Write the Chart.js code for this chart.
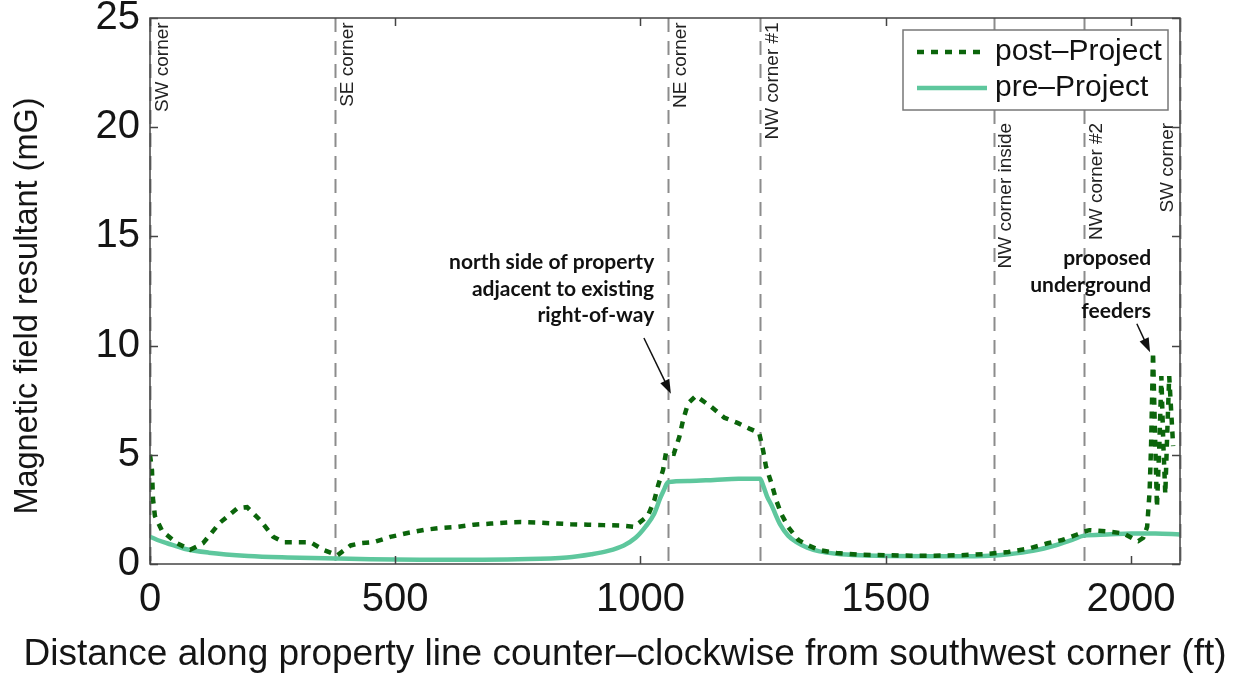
<!DOCTYPE html>
<html>
<head>
<meta charset="utf-8">
<script src="https://cdn.jsdelivr.net/npm/chart.js@4/dist/chart.umd.min.js"></script>
<style>
  html, body { margin: 0; padding: 0; background: #fff; }
  #chart { display: block; }
</style>
</head>
<body>
<canvas id="chart" width="1241" height="679"></canvas>
<script>
// post-Project readings (distance ft, field mG)
const postX = [0, 4, 6, 10, 25, 55, 82, 108, 143, 178, 198, 225, 251, 272, 300, 327, 353, 382, 409, 429,
  456, 490, 525, 558, 592, 627, 660, 695, 729, 756, 791, 823, 858, 893, 925, 960, 987, 1015, 1028, 1036,
  1046, 1052, 1068, 1079, 1087, 1097, 1113, 1144, 1171, 1199, 1222, 1242, 1250, 1256, 1267, 1277, 1287,
  1301, 1322, 1342, 1363, 1400, 1450, 1500, 1550, 1600, 1650, 1700, 1750, 1790, 1830, 1860, 1890, 1904,
  1915, 1950, 1985, 2005, 2015, 2025, 2033, 2038, 2041, 2043, 2045, 2049, 2053, 2058, 2062, 2066, 2070,
  2074, 2078, 2082, 2086];
const postY = [5.0, 4.3, 3.0, 2.2, 1.5, 0.95, 0.65, 0.95, 1.9, 2.55, 2.6, 2.0, 1.25, 1.0, 1.0, 1.0, 0.65, 0.4, 0.85, 0.95,
  1.0, 1.24, 1.42, 1.56, 1.65, 1.7, 1.8, 1.85, 1.9, 1.92, 1.9, 1.86, 1.82, 1.8, 1.78, 1.76, 1.7, 2.2, 2.9, 3.6,
  4.3, 5.1, 5.05, 5.8, 6.6, 7.35, 7.7, 7.2, 6.7, 6.45, 6.2, 6.0, 5.2, 4.45, 3.7, 2.9, 2.3,
  1.7, 1.1, 0.85, 0.65, 0.5, 0.42, 0.4, 0.38, 0.38, 0.4, 0.45, 0.55, 0.7, 0.95, 1.1, 1.35, 1.48,
  1.55, 1.5, 1.4, 1.15, 1.05, 1.2, 1.7, 3.3, 5.4, 7.5, 9.7, 6.0, 2.6, 5.5, 8.6, 5.5, 3.2,
  6.0, 8.6, 7.0, 5.4];

// pre-Project readings
const preX = [0, 15, 35, 70, 120, 200, 280, 378, 450, 550, 650, 750, 850, 900, 934, 966, 990, 1010, 1028, 1040,
  1048, 1056, 1100, 1150, 1200, 1244, 1250, 1258, 1267, 1285, 1301, 1318, 1340, 1365, 1400, 1450, 1500,
  1600, 1700, 1750, 1800, 1850, 1880, 1904, 1950, 2000, 2050, 2100];
const preY = [1.25, 1.1, 0.95, 0.7, 0.52, 0.37, 0.3, 0.25, 0.22, 0.2, 0.2, 0.22, 0.3, 0.45, 0.6, 0.85, 1.2, 1.7, 2.3, 3.0,
  3.4, 3.75, 3.8, 3.85, 3.9, 3.9, 3.6, 3.1, 2.7, 1.8, 1.3, 1.0, 0.75, 0.58, 0.47, 0.4, 0.37,
  0.35, 0.37, 0.45, 0.6, 0.88, 1.1, 1.3, 1.35, 1.4, 1.4, 1.35];

const xTicks = [0, 500, 1000, 1500, 2000];
const yTicks = [0, 5, 10, 15, 20, 25];

// corner markers along the property line
const markerX = [0, 378, 1056, 1244, 1720, 1904, 2100];
const markerLabels = ['SW corner', 'SE corner', 'NE corner', 'NW corner #1', 'NW corner inside', 'NW corner #2', 'SW corner'];
const markerTop = [24.8, 24.8, 24.8, 24.8, 20.2, 20.2, 20.2];

const seriesNames = ['post\u2013Project', 'pre\u2013Project'];
const xTitle = 'Distance along property line counter\u2013clockwise from southwest corner (ft)';
const yTitle = 'Magnetic field resultant (mG)';
const postColor = '#0b650b';
const preColor = '#5ec79d';

const FONT = '"Liberation Sans", Arial, Helvetica, sans-serif';

const toPoints = (xs, ys) => xs.map((x, i) => ({ x: x, y: ys[i] }));

// callouts: text lines, right edge + first line (data units), arrow from/to
const notes = [
  { lines: ['north side of property', 'adjacent to existing', 'right-of-way'], x: 1028, y: 13.8,
    arrow: [1007, 10.35, 1062, 7.8] },
  { lines: ['proposed', 'underground', 'feeders'], x: 2041, y: 14.0,
    arrow: [2012, 11.0, 2039, 9.7] }
];

const extras = {
  id: 'extras',
  beforeDatasetsDraw(chart) {
    const { ctx, chartArea: a, scales: { x, y } } = chart;
    ctx.save();
    // dashed corner lines
    ctx.strokeStyle = '#8c8c8c';
    ctx.lineWidth = 2;
    ctx.setLineDash([14, 9]);
    markerX.forEach(v => {
      const px = Math.round(x.getPixelForValue(v)) + 0.5;
      ctx.beginPath();
      ctx.moveTo(px, a.top);
      ctx.lineTo(px, a.bottom);
      ctx.stroke();
    });
    ctx.setLineDash([]);
    // their labels, rotated
    ctx.fillStyle = '#222';
    ctx.font = '19px ' + FONT;
    markerX.forEach((v, i) => {
      const last = i === markerX.length - 1;
      const px = x.getPixelForValue(v) + (last ? -3 : 3);
      ctx.save();
      ctx.translate(px, y.getPixelForValue(markerTop[i]));
      ctx.rotate(-Math.PI / 2);
      ctx.textAlign = 'right';
      ctx.textBaseline = last ? 'bottom' : 'top';
      ctx.fillText(markerLabels[i], 0, 0);
      ctx.restore();
    });
    ctx.restore();
  },
  afterDraw(chart) {
    const { ctx, chartArea: a, scales: { x, y } } = chart;
    ctx.save();
    // box + inward ticks
    ctx.strokeStyle = '#444';
    ctx.lineWidth = 1.5;
    ctx.strokeRect(a.left, a.top, a.right - a.left, a.bottom - a.top);
    ctx.beginPath();
    xTicks.forEach(v => {
      const px = Math.round(x.getPixelForValue(v)) + 0.5;
      ctx.moveTo(px, a.bottom); ctx.lineTo(px, a.bottom - 8);
      ctx.moveTo(px, a.top); ctx.lineTo(px, a.top + 8);
    });
    yTicks.forEach(v => {
      const py = Math.round(y.getPixelForValue(v)) + 0.5;
      ctx.moveTo(a.left, py); ctx.lineTo(a.left + 8, py);
      ctx.moveTo(a.right, py); ctx.lineTo(a.right - 8, py);
    });
    ctx.stroke();

    // axis titles
    ctx.fillStyle = '#151515';
    ctx.textAlign = 'center';
    ctx.textBaseline = 'middle';
    ctx.font = '37px ' + FONT;
    ctx.fillText(xTitle, 625, 655);
    ctx.save();
    ctx.translate(28, 306);
    ctx.rotate(-Math.PI / 2);
    ctx.font = '32.5px ' + FONT;
    ctx.fillText(yTitle, 0, 0);
    ctx.restore();

    // legend
    const lw = 265, lh = 80;
    const lx = a.right - 12 - lw, ly = a.top + 12;
    ctx.fillStyle = '#fff';
    ctx.fillRect(lx, ly, lw, lh);
    ctx.strokeStyle = '#777';
    ctx.lineWidth = 1.5;
    ctx.strokeRect(lx, ly, lw, lh);
    const rows = [ly + 22, ly + 58];
    ctx.lineWidth = 4.5;
    ctx.strokeStyle = postColor;
    ctx.setLineDash([7, 7]);
    ctx.beginPath(); ctx.moveTo(lx + 14, rows[0]); ctx.lineTo(lx + 84, rows[0]); ctx.stroke();
    ctx.setLineDash([]);
    ctx.strokeStyle = preColor;
    ctx.beginPath(); ctx.moveTo(lx + 14, rows[1]); ctx.lineTo(lx + 84, rows[1]); ctx.stroke();
    ctx.fillStyle = '#111';
    ctx.font = '30px ' + FONT;
    ctx.textAlign = 'left';
    ctx.textBaseline = 'middle';
    seriesNames.forEach((s, i) => ctx.fillText(s, lx + 92, rows[i]));

    // callouts
    ctx.font = 'bold 21px Lato, "Open Sans", sans-serif';
    ctx.textAlign = 'right';
    ctx.textBaseline = 'middle';
    notes.forEach(n => {
      const tx = x.getPixelForValue(n.x), ty = y.getPixelForValue(n.y);
      n.lines.forEach((t, i) => ctx.fillText(t, tx, ty + i * 26.5));
      const x0 = x.getPixelForValue(n.arrow[0]), y0 = y.getPixelForValue(n.arrow[1]);
      const x1 = x.getPixelForValue(n.arrow[2]), y1 = y.getPixelForValue(n.arrow[3]);
      const ang = Math.atan2(y1 - y0, x1 - x0);
      ctx.strokeStyle = '#111';
      ctx.lineWidth = 1.5;
      ctx.beginPath();
      ctx.moveTo(x0, y0);
      ctx.lineTo(x1 - 10 * Math.cos(ang), y1 - 10 * Math.sin(ang));
      ctx.stroke();
      ctx.beginPath();
      ctx.moveTo(x1, y1);
      ctx.lineTo(x1 - 14 * Math.cos(ang) + 5 * Math.sin(ang), y1 - 14 * Math.sin(ang) - 5 * Math.cos(ang));
      ctx.lineTo(x1 - 14 * Math.cos(ang) - 5 * Math.sin(ang), y1 - 14 * Math.sin(ang) + 5 * Math.cos(ang));
      ctx.closePath();
      ctx.fill();
    });
    ctx.restore();
  }
};

new Chart(document.getElementById('chart').getContext('2d'), {
  type: 'line',
  data: {
    datasets: [
      {
        label: seriesNames[1],
        data: toPoints(preX, preY),
        borderColor: preColor,
        borderWidth: 4.5,
        pointRadius: 0,
        cubicInterpolationMode: 'monotone',
        order: 2
      },
      {
        label: seriesNames[0],
        data: toPoints(postX, postY),
        borderColor: postColor,
        borderWidth: 4.5,
        borderDash: [7, 7],
        borderCapStyle: 'butt',
        pointRadius: 0,
        tension: 0,
        order: 1
      }
    ]
  },
  options: {
    responsive: false,
    devicePixelRatio: 1,
    animation: false,
    layout: { padding: { left: 0, right: 61, top: 0, bottom: 0 } },
    plugins: { legend: { display: false }, tooltip: { enabled: false } },
    scales: {
      x: {
        type: 'linear',
        min: 0,
        max: 2100,
        afterBuildTicks: s => { s.ticks = xTicks.map(v => ({ value: v })); },
        afterFit: s => { s.height = 115; },
        grid: { display: false, drawTicks: false },
        border: { display: false },
        ticks: {
          color: '#151515', font: { family: FONT, size: 40, lineHeight: 1 }, padding: 16, maxRotation: 0,
          callback: v => String(v)
        }
      },
      y: {
        min: 0,
        max: 25,
        afterBuildTicks: s => { s.ticks = yTicks.map(v => ({ value: v })); },
        afterFit: s => { s.width = 150; },
        grid: { display: false, drawTicks: false },
        border: { display: false },
        ticks: {
          color: '#151515', font: { family: FONT, size: 40, lineHeight: 0.4 }, padding: 10,
          callback: v => String(v)
        }
      }
    }
  },
  plugins: [extras]
});
</script>
</body>
</html>
